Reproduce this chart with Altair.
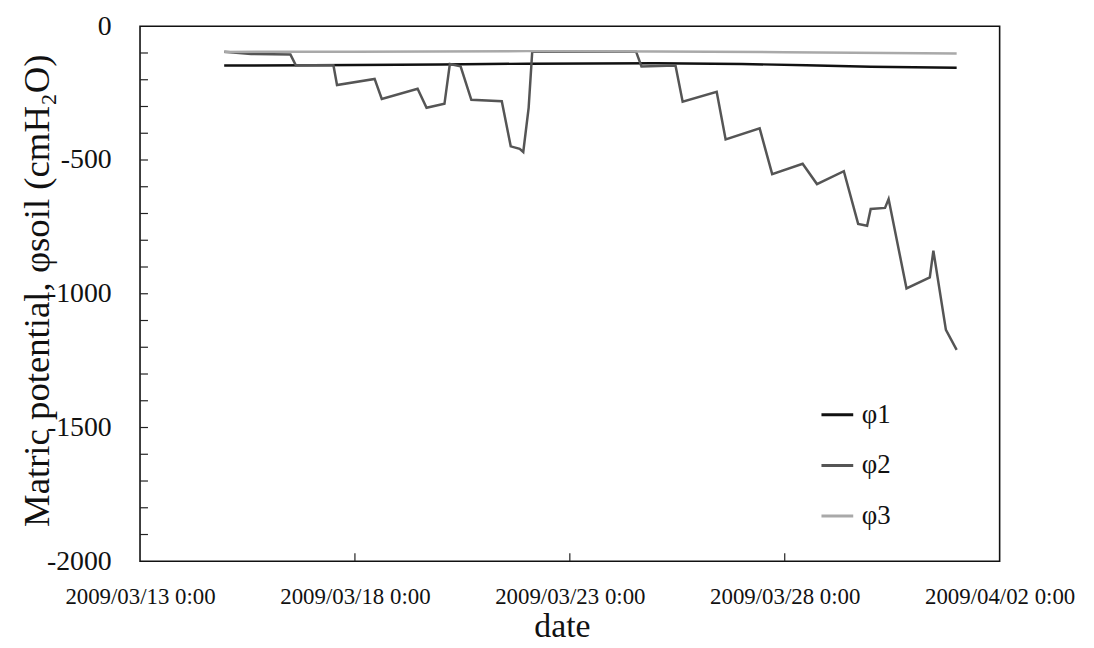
import altair as alt
import pandas as pd

# ---- data ----
phi1_times = ["2009-03-14T23:00:00Z", "2009-03-17T00:00:00Z", "2009-03-20T00:00:00Z",
              "2009-03-22T00:00:00Z", "2009-03-25T00:00:00Z", "2009-03-27T00:00:00Z",
              "2009-03-28T12:00:00Z", "2009-03-30T00:00:00Z", "2009-04-01T00:00:00Z"]
phi1_values = [-147, -146, -143, -140, -138, -141, -146, -151, -155]

phi3_times = ["2009-03-14T23:00:00Z", "2009-03-18T00:00:00Z", "2009-03-22T00:00:00Z",
              "2009-03-25T00:00:00Z", "2009-03-28T00:00:00Z", "2009-04-01T00:00:00Z"]
phi3_values = [-96, -95, -93, -94, -97, -102]

phi2_times = ["2009-03-14T23:00:00Z", "2009-03-15T14:00:00Z", "2009-03-16T12:00:00Z",
              "2009-03-16T15:00:00Z", "2009-03-17T12:00:00Z", "2009-03-17T14:00:00Z",
              "2009-03-18T11:00:00Z", "2009-03-18T15:00:00Z", "2009-03-19T11:00:00Z",
              "2009-03-19T16:00:00Z", "2009-03-20T02:00:00Z", "2009-03-20T05:00:00Z",
              "2009-03-20T11:00:00Z", "2009-03-20T17:00:00Z", "2009-03-21T10:00:00Z",
              "2009-03-21T15:00:00Z", "2009-03-21T20:00:00Z", "2009-03-21T22:00:00Z",
              "2009-03-22T01:00:00Z", "2009-03-22T03:00:00Z", "2009-03-24T13:00:00Z",
              "2009-03-24T16:00:00Z", "2009-03-25T11:00:00Z", "2009-03-25T15:00:00Z",
              "2009-03-26T10:00:00Z", "2009-03-26T15:00:00Z", "2009-03-27T10:00:00Z",
              "2009-03-27T17:00:00Z", "2009-03-28T10:00:00Z", "2009-03-28T18:00:00Z",
              "2009-03-29T09:00:00Z", "2009-03-29T17:00:00Z", "2009-03-29T22:00:00Z",
              "2009-03-30T00:00:00Z", "2009-03-30T08:00:00Z", "2009-03-30T10:00:00Z",
              "2009-03-30T20:00:00Z", "2009-03-31T09:00:00Z", "2009-03-31T11:00:00Z",
              "2009-03-31T18:00:00Z", "2009-04-01T00:00:00Z"]
phi2_values = [-95, -104, -106, -146, -146, -220, -197, -272, -234, -305, -290, -141,
               -150, -275, -280, -449, -458, -470, -305, -95, -95, -150, -147, -282,
               -245, -423, -382, -553, -514, -590, -542, -739, -746, -683, -679, -646,
               -980, -939, -839, -1135, -1210]

series_names = ["φ1", "φ2", "φ3"]
series_colors = ["#111111", "#555555", "#a9a9a9"]

y_major_ticks = [0, -500, -1000, -1500, -2000]
y_minor_ticks = [-100 * i for i in range(1, 20)]
x_tick_dates = ["2009-03-13T00:00:00Z", "2009-03-18T00:00:00Z", "2009-03-23T00:00:00Z",
                "2009-03-28T00:00:00Z", "2009-04-02T00:00:00Z"]
x_inner_ticks = ["2009-03-18T00:00:00Z", "2009-03-23T00:00:00Z", "2009-03-28T00:00:00Z"]

rows = []
for name, ts, vs in [("φ1", phi1_times, phi1_values),
                     ("φ2", phi2_times, phi2_values),
                     ("φ3", phi3_times, phi3_values)]:
    for t, v in zip(ts, vs):
        rows.append({"time": t, "value": v, "series": name})
df = pd.DataFrame(rows)

W, H = 866, 539
FONT = "Liberation Serif"

x_scale = alt.Scale(type="utc",
                    domain=[alt.DateTime(year=2009, month=3, date=13, utc=True),
                            alt.DateTime(year=2009, month=4, date=2, utc=True)])
y_scale = alt.Scale(domain=[-2000, 0], nice=False, zero=False)

x_axis_vals = [alt.DateTime(year=int(s[0:4]), month=int(s[5:7]), date=int(s[8:10]), utc=True)
               for s in x_tick_dates]

x_axis = alt.Axis(title="date", values=x_axis_vals, format="%Y/%m/%d %-H:%M",
                  ticks=False, domain=False, grid=False,
                  labelFont=FONT, labelFontSize=23, labelPadding=25, labelColor="#111",
                  labelFlush=False, labelOverlap=False,
                  titleFont=FONT, titleFontSize=34, titleFontWeight="normal",
                  titleColor="#111", titleX=425, titleY=76, titleBaseline="alphabetic")
y_axis = alt.Axis(title="Matric potential, φsoil (cmH₂O)", values=y_major_ticks,
                  labelExpr="toString(datum.value)",
                  ticks=False, domain=False, grid=False,
                  labelFont=FONT, labelFontSize=28, labelPadding=29, labelColor="#111",
                  labelFlush=False, labelOverlap=False,
                  titleFont=FONT, titleFontSize=37, titleFontWeight="normal",
                  titleColor="#111", titleAngle=270, titleX=-92, titleY=266,
                  titleAlign="center", titleBaseline="alphabetic")

lines = alt.Chart(df).mark_line(strokeWidth=2.5).encode(
    x=alt.X("time:T", scale=x_scale, axis=x_axis),
    y=alt.Y("value:Q", scale=y_scale, axis=y_axis),
    color=alt.Color("series:N", scale=alt.Scale(domain=series_names, range=series_colors),
                    legend=alt.Legend(title=None, orient="none", legendX=685, legendY=374,
                                      symbolType="stroke", symbolSize=1024,
                                      symbolStrokeWidth=3, labelFont=FONT,
                                      labelFontSize=27, labelOffset=7, rowPadding=20,
                                      padding=0, labelColor="#111")),
)

y_tick_df = pd.DataFrame({"value": y_minor_ticks})
y_ticks = alt.Chart(y_tick_df).mark_rule(color="#222", strokeWidth=1.2).encode(
    y=alt.Y("value:Q", scale=y_scale, axis=y_axis),
    x=alt.value(0), x2=alt.value(8),
)

x_tick_df = pd.DataFrame({"time": x_inner_ticks})
x_ticks = alt.Chart(x_tick_df).mark_rule(color="#222", strokeWidth=1.2).encode(
    x=alt.X("time:T", scale=x_scale, axis=x_axis),
    y=alt.value(H), y2=alt.value(H - 8),
)

chart = alt.layer(lines, y_ticks, x_ticks).properties(
    width=W, height=H,
    padding={"left": 133, "top": 16, "right": 87, "bottom": 85},
    autosize=alt.AutoSizeParams(type="none"),
).configure(font=FONT).configure_view(stroke="#111", strokeWidth=1.6)

chart.save("out.html", embed_options={"renderer": "svg", "actions": False})
